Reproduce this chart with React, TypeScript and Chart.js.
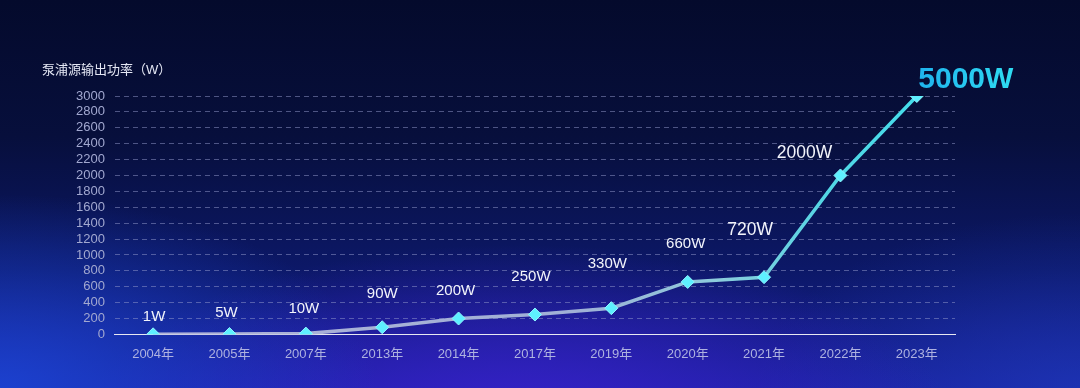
import { useEffect, useRef } from "react";
import { Chart, registerables } from "chart.js";

Chart.register(...registerables);

const categories = ["2004年", "2005年", "2007年", "2013年", "2014年", "2017年", "2019年", "2020年", "2021年", "2022年", "2023年"];
const plotValues = [1, 5, 10, 90, 200, 250, 330, 660, 720, 2000, 3000];
const valueLabels = ["1W", "5W", "10W", "90W", "200W", "250W", "330W", "660W", "720W", "2000W", "5000W"];
const yMin = 0;
const yMax = 3000;
const yStep = 200;
const yAxisTitle = "泵浦源输出功率（W）";

// label styling: offset from point, font size
const labelOffsets: [number, number][] = [
  [1, -17], [-3, -21], [-2, -25], [0, -33], [-3, -28], [-4, -38], [-4, -44], [-2, -38], [-14, -47], [-36, -22], [49, -16],
];
const labelSizes = [15, 15, 15, 15, 15, 15, 15, 15, 17.5, 17.5, 30];
const FONT = "Arial, 'Liberation Sans', 'Noto Sans CJK SC', sans-serif";

const labelPlugin = {
  id: "valueLabels",
  afterDatasetsDraw(chart: any) {
    const ctx = chart.ctx;
    const meta = chart.getDatasetMeta(0);
    ctx.save();
    ctx.textAlign = "center";
    ctx.textBaseline = "middle";
    meta.data.forEach((pt: any, i: number) => {
      const [dx, dy] = labelOffsets[i];
      const size = labelSizes[i];
      const last = i === valueLabels.length - 1;
      ctx.font = `${last ? "bold " : ""}${size}px ${FONT}`;
      if (last) {
        const w = ctx.measureText(valueLabels[i]).width;
        const g = ctx.createLinearGradient(pt.x + dx - w / 2, 0, pt.x + dx + w / 2, 0);
        g.addColorStop(0, "#1fb4ee");
        g.addColorStop(1, "#2fdcf2");
        ctx.fillStyle = g;
      } else {
        ctx.fillStyle = "#f2f4fb";
      }
      ctx.fillText(valueLabels[i], pt.x + dx, pt.y + dy);
    });
    ctx.restore();
  },
};

const titlePlugin = {
  id: "axisTitleTop",
  afterDraw(chart: any) {
    const ctx = chart.ctx;
    ctx.save();
    ctx.font = `13px ${FONT}`;
    ctx.fillStyle = "#e4e7f4";
    ctx.textAlign = "left";
    ctx.textBaseline = "middle";
    ctx.fillText(yAxisTitle, 42, 70);
    ctx.restore();
  },
};

export default function App() {
  const ref = useRef<HTMLCanvasElement | null>(null);

  useEffect(() => {
    if (!ref.current) return;
    const chart = new Chart(ref.current, {
      type: "line",
      data: {
        labels: categories,
        datasets: [
          {
            data: plotValues,
            borderWidth: 3.5,
            tension: 0,
            borderColor: (c: any) => {
              const area = c.chart.chartArea;
              if (!area) return "#a8acd8";
              const g = c.chart.ctx.createLinearGradient(area.left, 0, area.right, 0);
              g.addColorStop(0, "#b0b2d8");
              g.addColorStop(0.55, "#a0b0d6");
              g.addColorStop(0.72, "#8cccdc");
              g.addColorStop(0.85, "#52d6e4");
              g.addColorStop(1, "#3fe0ee");
              return g;
            },
            pointStyle: "rectRot",
            pointRadius: 6.5,
            pointBackgroundColor: "#5ef0ff",
            pointBorderColor: "#8ff6ff",
            pointBorderWidth: 1,
          },
        ],
      },
      options: {
        responsive: false,
        animation: false,
        layout: { padding: { left: 66, right: 125, top: 96, bottom: 14 } },
        plugins: {
          legend: { display: false },
          tooltip: { enabled: false },
          title: { display: false },
        },
        scales: {
          x: {
            offset: true,
            grid: { display: false, drawTicks: false },
            border: { display: true, color: "#e8e8f2", width: 1 },
            ticks: { color: "#aeb2e0", padding: 12, autoSkip: false, maxRotation: 0, font: { size: 13, family: FONT } },
          },
          y: {
            min: yMin,
            max: yMax,
            ticks: {
              stepSize: yStep,
              autoSkip: false,
              color: "#a2a8d0",
              padding: 10,
              font: { size: 13, family: FONT },
              callback: (v: any) => String(v),
            },
            grid: { color: "rgba(150,155,205,0.5)", drawTicks: false, lineWidth: 1 },
            border: { display: false, dash: [5, 4] },
          },
        },
      },
      plugins: [labelPlugin, titlePlugin],
    });
    return () => chart.destroy();
  }, []);

  return (
    <div
      style={{
        position: "fixed",
        left: 0,
        top: 0,
        width: 1080,
        height: 388,
        overflow: "hidden",
        background:
          "radial-gradient(ellipse 35% 50% at 0% 100%, rgba(28,70,215,0.85), rgba(28,70,215,0) 100%)," +
          "radial-gradient(ellipse 40% 45% at 48% 108%, rgba(58,32,205,0.9), rgba(58,32,205,0) 100%)," +
          "radial-gradient(ellipse 30% 45% at 100% 100%, rgba(30,60,190,0.6), rgba(30,60,190,0) 100%)," +
          "linear-gradient(180deg, #040a2c 0%, #070f3c 35%, #0c1868 70%, #1a22a0 100%)",
      }}
    >
      <canvas ref={ref} width={1080} height={388} style={{ display: "block" }} />
    </div>
  );
}
